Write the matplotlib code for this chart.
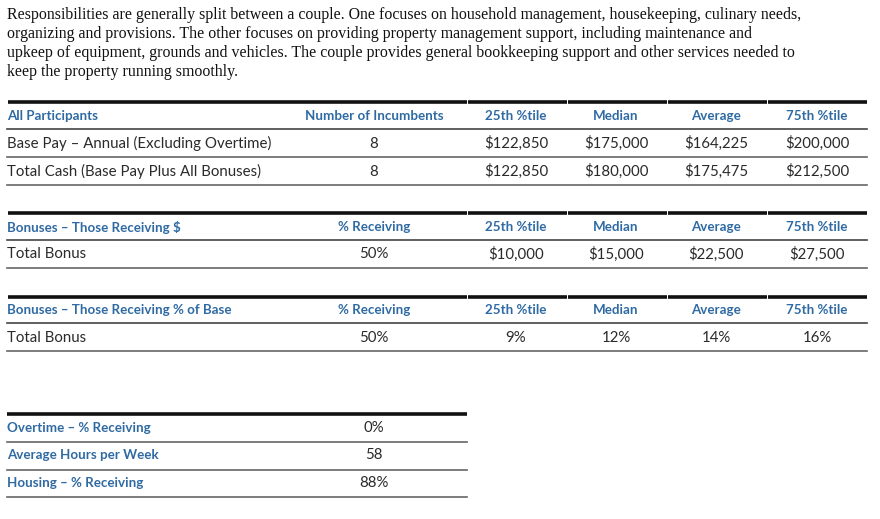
import matplotlib.pyplot as plt

# Intro paragraph
intro = ("Responsibilities are generally split between a couple. One focuses on household management, housekeeping, culinary needs,\n"
         "organizing and provisions. The other focuses on providing property management support, including maintenance and\n"
         "upkeep of equipment, grounds and vehicles. The couple provides general bookkeeping support and other services needed to\n"
         "keep the property running smoothly.")

stat_cols = ["25th %tile", "Median", "Average", "75th %tile"]

# Table 1: all participants
t1_title = "All Participants"
t1_col1 = "Number of Incumbents"
t1_rows = ["Base Pay \u2013 Annual (Excluding Overtime)", "Total Cash (Base Pay Plus All Bonuses)"]
t1_count = ["8", "8"]
t1_vals = [["$122,850", "$175,000", "$164,225", "$200,000"],
           ["$122,850", "$180,000", "$175,475", "$212,500"]]

# Table 2: bonuses in $
t2_title = "Bonuses \u2013 Those Receiving $"
t2_col1 = "% Receiving"
t2_rows = ["Total Bonus"]
t2_count = ["50%"]
t2_vals = [["$10,000", "$15,000", "$22,500", "$27,500"]]

# Table 3: bonuses as % of base
t3_title = "Bonuses \u2013 Those Receiving % of Base"
t3_col1 = "% Receiving"
t3_rows = ["Total Bonus"]
t3_count = ["50%"]
t3_vals = [["9%", "12%", "14%", "16%"]]

# Table 4: other stats
t4_labels = ["Overtime \u2013 % Receiving", "Average Hours per Week", "Housing \u2013 % Receiving"]
t4_vals = ["0%", "58", "88%"]

BLUE = "#2f6aa3"
TEXT = "#2a2a2a"
FONT = "Lato"
HEAD_FS = 9.6
BODY_FS = 10.8
ROW_H = 28

fig = plt.figure(figsize=(8.8, 5.19), dpi=100)
ax = fig.add_axes([0, 0, 1, 1])
ax.set_xlim(0, 880)
ax.set_ylim(519, 0)
ax.axis("off")

ax.text(7, 7, intro, family="Liberation Serif", fontsize=11.45, color="#111111",
        va="top", ha="left", linespacing=1.25)

x_left, x_right = 7, 867
x_count = 374
x_stats = [516, 616, 716, 817]
seg_edges = [7, 467, 567, 667, 767, 867]


def draw_table(top, title, col1, rows, counts, vals):
    # thick top rule with small breaks at the column edges
    for a, b in zip(seg_edges[:-1], seg_edges[1:]):
        ax.plot([a + 0.5, b - 0.5], [top, top], color="#111111", lw=2.6, solid_capstyle="butt")
    y = top + 14
    ax.text(x_left, y, title, family=FONT, fontsize=HEAD_FS, fontweight="bold", color=BLUE, va="center")
    ax.text(x_count, y, col1, family=FONT, fontsize=HEAD_FS, fontweight="bold", color=BLUE, va="center", ha="center")
    for x, s in zip(x_stats, stat_cols):
        ax.text(x, y, s, family=FONT, fontsize=HEAD_FS, fontweight="bold", color=BLUE, va="center", ha="center")
    line_y = top + 26.5
    ax.plot([x_left, x_right], [line_y, line_y], color="#444444", lw=1.2)
    for name, cnt, row in zip(rows, counts, vals):
        cy = line_y + ROW_H / 2 + 1
        ax.text(x_left, cy, name, family=FONT, fontsize=BODY_FS, color=TEXT, va="center")
        ax.text(x_count, cy, cnt, family=FONT, fontsize=BODY_FS, color=TEXT, va="center", ha="center")
        for x, v in zip(x_stats, row):
            ax.text(x, cy, v, family=FONT, fontsize=BODY_FS, color=TEXT, va="center", ha="center")
        line_y += ROW_H
        ax.plot([x_left, x_right], [line_y, line_y], color="#666666", lw=1.2)


draw_table(102, t1_title, t1_col1, t1_rows, t1_count, t1_vals)
draw_table(213, t2_title, t2_col1, t2_rows, t2_count, t2_vals)
draw_table(296.5, t3_title, t3_col1, t3_rows, t3_count, t3_vals)

# small table at the bottom
top = 414
ax.plot([x_left, 467], [top, top], color="#111111", lw=2.6, solid_capstyle="butt")
line_y = top
for lab, v in zip(t4_labels, t4_vals):
    cy = line_y + 13.5
    ax.text(x_left, cy, lab, family=FONT, fontsize=HEAD_FS, fontweight="bold", color=BLUE, va="center")
    ax.text(x_count, cy, v, family=FONT, fontsize=BODY_FS, color=TEXT, va="center", ha="center")
    line_y += 27.8
    ax.plot([x_left, 467], [line_y, line_y], color="#666666", lw=1.2)

fig.savefig("out.png", dpi=100)
